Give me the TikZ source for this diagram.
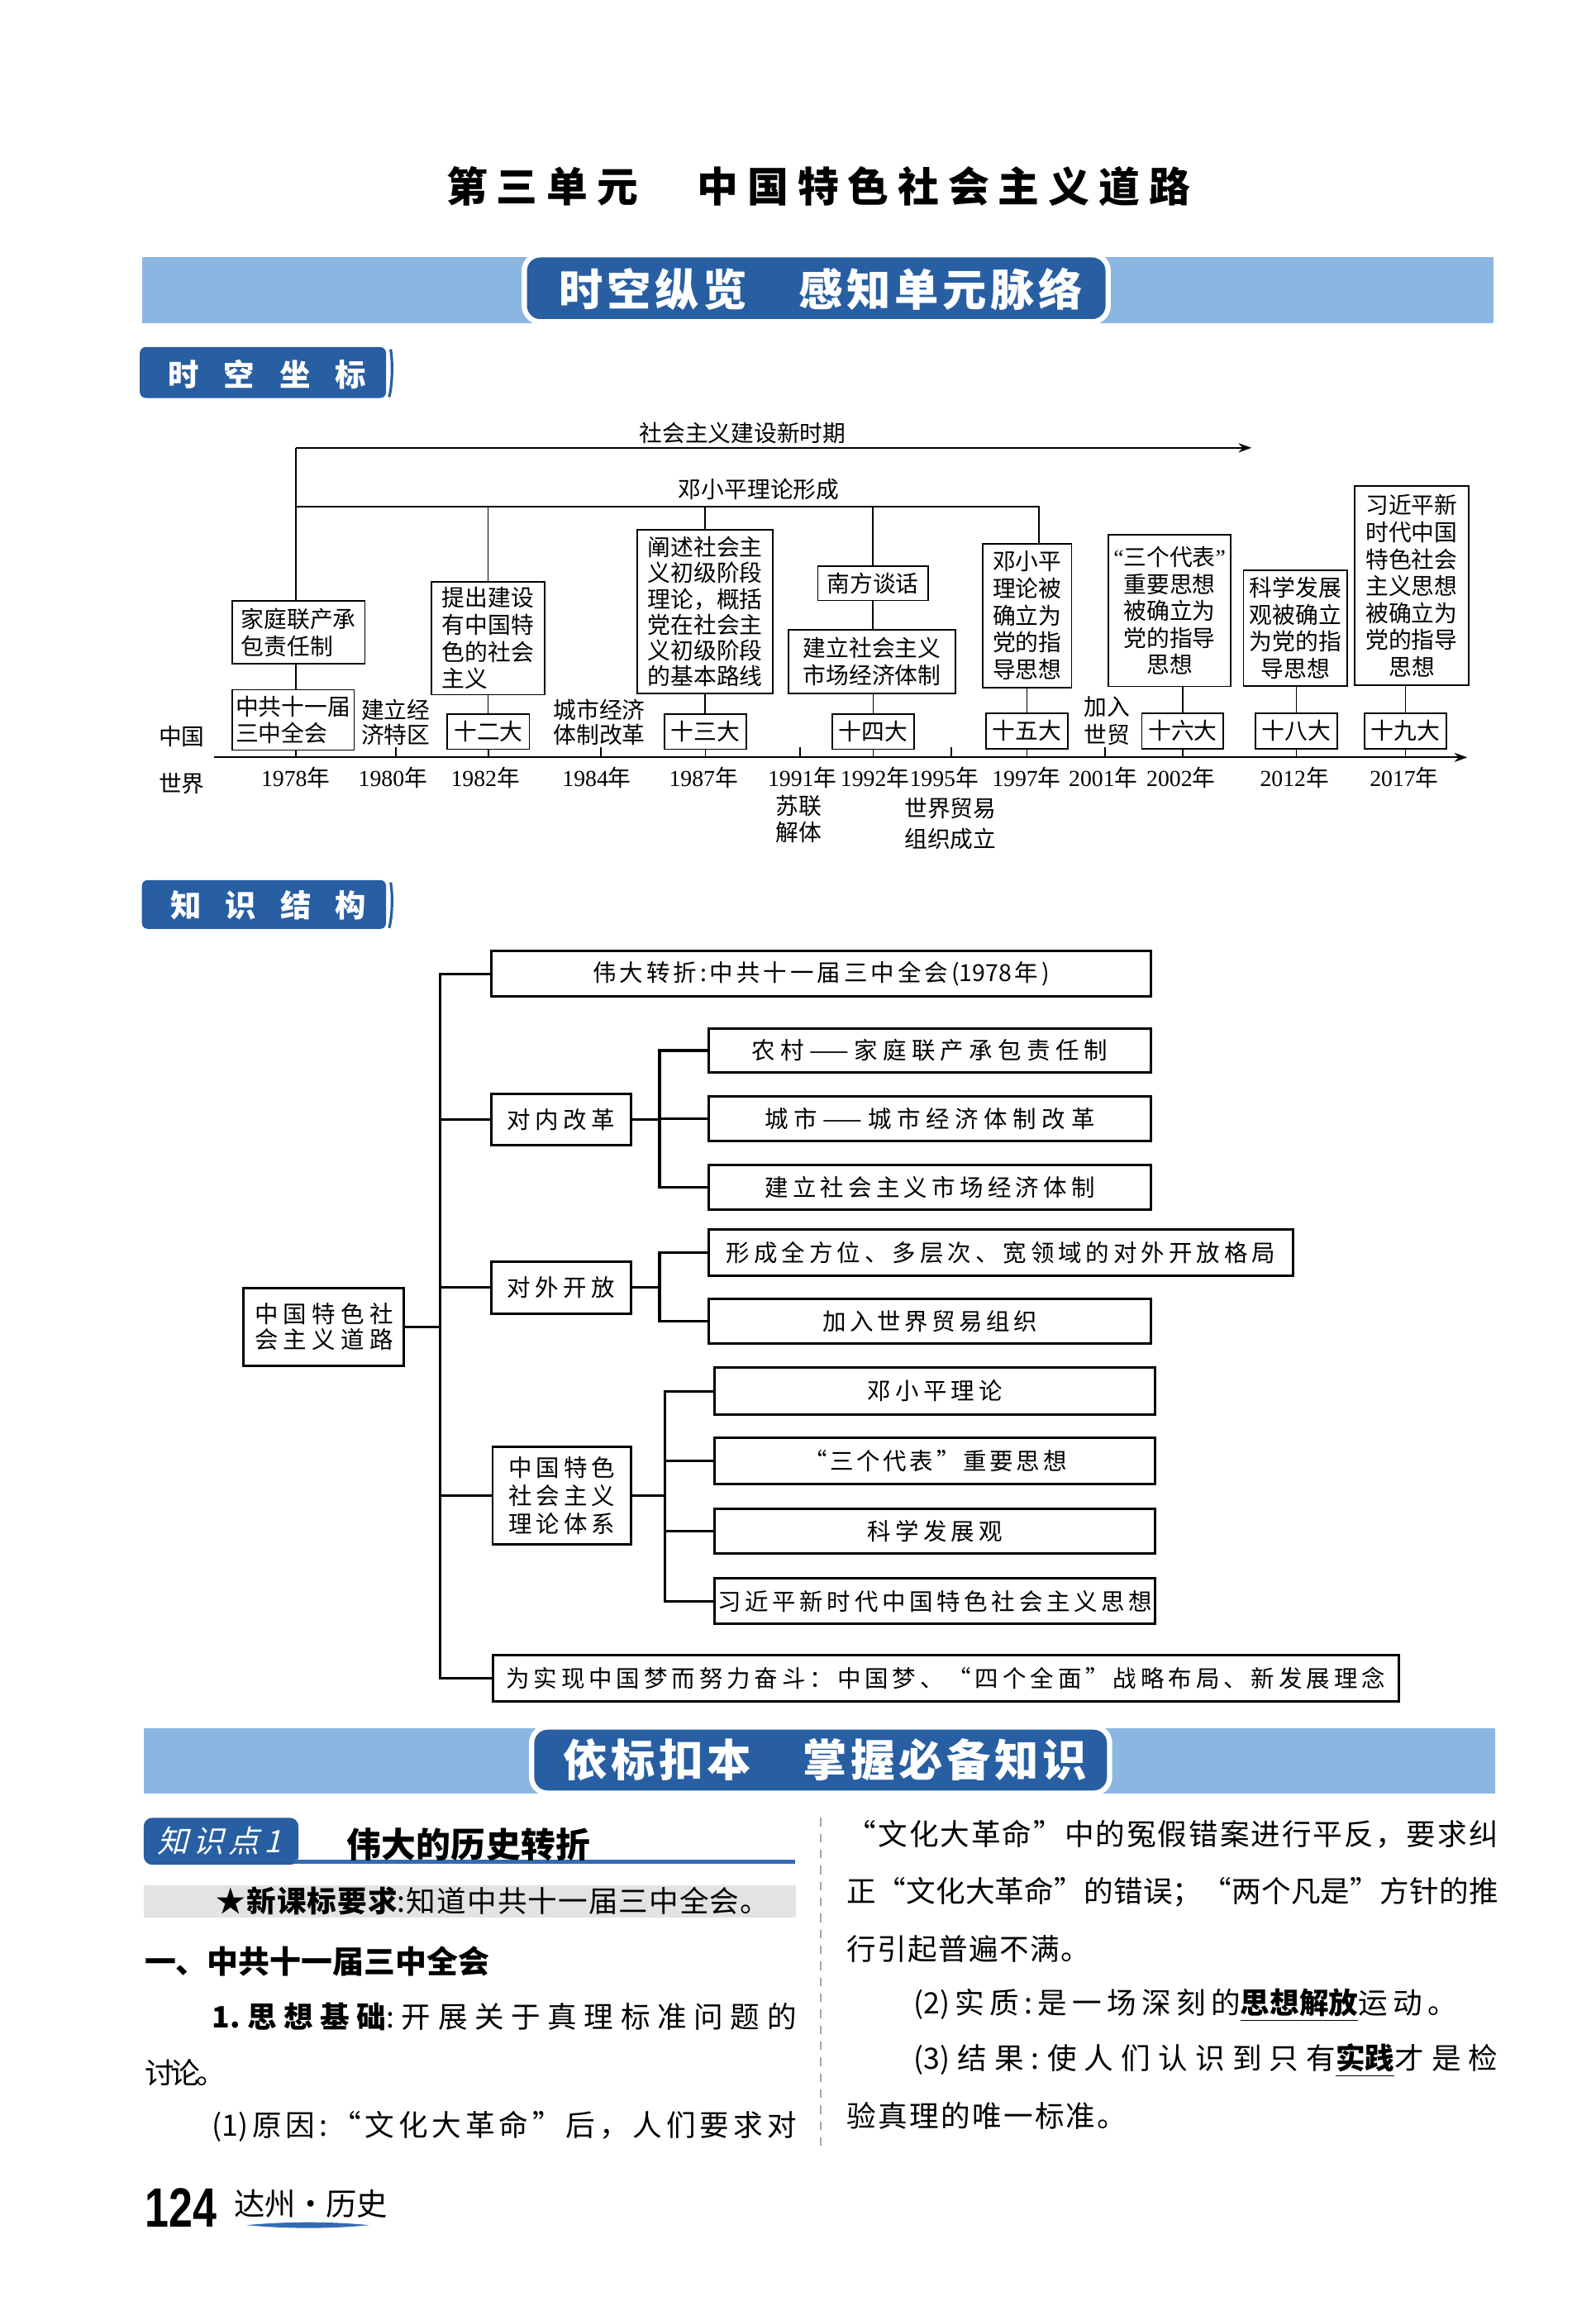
\documentclass[tikz,border=0pt]{standalone}
\usepackage{fontspec}
\usepackage{graphicx}
\setmainfont{Liberation Serif}
\setsansfont{Liberation Sans}
\newfontfamily\cjk{Noto Sans CJK SC}
\newfontfamily\cjksl{Noto Sans CJK SC}[FakeSlant=0.25]
\usetikzlibrary{arrows.meta}
\newdimen\Ud \Ud=0.17797mm
\newcommand\fsz[2]{\fontsize{#1\Ud}{#2\Ud}\selectfont}
% --- character classes for inter-character glue (used only inside \just) ---
\newcount\cc
\cc="4E00
\loop \XeTeXcharclass\cc=1 \advance\cc by 1 \ifnum\cc<"A000 \repeat
\cc="3000
\loop \XeTeXcharclass\cc=1 \advance\cc by 1 \ifnum\cc<"3100 \repeat
\cc="FF00
\loop \XeTeXcharclass\cc=1 \advance\cc by 1 \ifnum\cc<"FFF0 \repeat
\XeTeXcharclass"2018=1 \XeTeXcharclass"2019=1
\XeTeXcharclass"201C=1 \XeTeXcharclass"201D=1 \XeTeXcharclass"2605=1
\XeTeXcharclass"2026=1
\def\jglue{\hskip 0pt plus 1fil minus 0.25em\relax}
\XeTeXinterchartoks 0 1 = {\jglue}
\XeTeXinterchartoks 1 0 = {\jglue}
\XeTeXinterchartoks 1 1 = {\jglue}
\newcommand\just[2]{{\XeTeXinterchartokenstate=1 \makebox[#1\Ud][s]{#2}}}
\newcommand\ans[1]{\underline{\bfseries #1}}
\definecolor{dkblue}{RGB}{40,94,162}
\definecolor{ltblue}{RGB}{140,182,226}
\definecolor{mdblue}{RGB}{52,108,180}
\begin{document}
\begin{tikzpicture}[x=0.17797mm,y=-0.17797mm,
  tl/.style={draw, line width=0.5pt, inner sep=0pt, font=\cjk\fsz{15.6}{18.3}},
  kb/.style={draw, line width=0.85pt, inner sep=0pt, font=\cjk\fsz{16}{19.5}},
  bw/.style={minimum width=#1*\Ud},
  bh/.style={minimum height=#1*\Ud},
  lbl/.style={inner sep=0pt, font=\cjk\fsz{15.6}{18}, align=center},
  tline/.style={line width=0.5pt},
  kl/.style={line width=0.9pt},
  bodytxt/.style={inner sep=0pt, anchor=west, font=\cjk\fsz{20}{24}},
  tip/.style={-{Stealth[length=4.5pt,width=3.2pt]}},
  bandbox/.style={fill=dkblue, draw=white, line width=1.8pt, rounded corners=5.5pt, inner sep=0pt},
  bandtxt/.style={inner sep=0pt, text=white, font=\cjk\bfseries\fsz{30}{32}},
  hdtxt/.style={inner sep=0pt, text=white, font=\cjk\bfseries\fsz{21}{24}}
]
\useasboundingbox (0,0) rectangle (1085,1568);
\fill[white] (0,0) rectangle (1085,1568);
% ---------- title ----------
\node[inner sep=0pt, font=\cjk\bfseries\fsz{28}{30}] (title) at (556.4,127) {\just{505.6}{第三单元　中国特色社会主义道路}};
% ---------- band 1 ----------
\fill[ltblue] (96.5,175) rectangle (1015.5,219.5);
\node[bandbox, bw=397, bh=45.6] (band1) at (555,196) {};
\node[bandtxt] (band1t) at (558,196.5) {\just{356}{时空纵览　感知单元脉络}};
% ---------- header 时空坐标 ----------
\fill[dkblue, rounded corners=2pt] (95.1,236) rectangle (262.5,270.6);
\draw[dkblue, line width=0.9pt] (265.6,237.5) .. controls (267.2,246) and (266.8,262) .. (264.6,270);
\node[hdtxt] (hd1) at (181.7,254.4) {\just{134.9}{时空坐标}};
% ---------- timeline ----------
\coordinate (A0) at (201,304.5);
\coordinate (A1) at (851,304.5);
\coordinate (D1) at (706.6,344.5);
\coordinate (AX0) at (145.6,515);
\coordinate (AX1) at (997.7,515);
\draw[tline,tip] (A0) -- (A1);
\node[lbl] (lab1) at (505,294.5) {社会主义建设新时期};
\node[lbl] (lab2) at (516,332.9) {邓小平理论形成};
\draw[tline,tip] (AX0) -- (AX1);
\node[tl,bw=90.3,bh=42.5,align=left] (jt) at (203,430) {家庭联产承\\包责任制};
\node[tl,bw=83,bh=41,align=left] (zg) at (199.3,489.5) {中共十一届\\三中全会};
\node[tl,bw=77,bh=76.7,align=left] (tj) at (331.8,434) {提出建设\\有中国特\\色的社会\\主义};
\node[tl,bw=55.8,bh=24] (d12) at (332.1,497.5) {十二大};
\node[tl,bw=92,bh=111,align=left,font=\cjk\fsz{15.6}{17.5}] (cs) at (479.5,415.9) {阐述社会主\\义初级阶段\\理论，概括\\党在社会主\\义初级阶段\\的基本路线};
\node[tl,bw=55.5,bh=24] (d13) at (479.7,497.5) {十三大};
\node[tl,bw=75,bh=23.1] (nf) at (593.6,396.7) {南方谈话};
\node[tl,bw=113.4,bh=43.1,align=center] (jl) at (593,449.9) {建立社会主义\\市场经济体制};
\node[tl,bw=55.5,bh=24] (d14) at (593.8,497.5) {十四大};
\node[tl,bw=60.6,bh=97.8,align=center] (dx) at (698.4,418.5) {邓小平\\理论被\\确立为\\党的指\\导思想};
\node[tl,bw=56,bh=24] (d15) at (698.3,497) {十五大};
\node[tl,bw=83.4,bh=103.2,align=center] (sg) at (795.3,415.2) {{\rmfamily“}三个代表{\rmfamily”}\\重要思想\\被确立为\\党的指导\\思想};
\node[tl,bw=55.5,bh=24] (d16) at (804.2,497) {十六大};
\node[tl,bw=70.5,bh=78.7,align=center] (kx) at (880.8,427.1) {科学发展\\观被确立\\为党的指\\导思想};
\node[tl,bw=55.5,bh=24] (d18) at (881.5,497) {十八大};
\node[tl,bw=77.6,bh=135.5,align=center] (xj) at (959.9,398.3) {习近平新\\时代中国\\特色社会\\主义思想\\被确立为\\党的指导\\思想};
\node[tl,bw=55.5,bh=24] (d19) at (955.7,497) {十九大};
% connectors
\draw[tline] (A0) -- (jt.north -| A0);
\draw[tline] (A0 |- D1) -- (D1) -- (dx.north -| D1);
\draw[tline] (tj.north) -- (tj.north |- D1);
\draw[tline] (cs.north) -- (cs.north |- D1);
\draw[tline] (nf.north) -- (nf.north |- D1);
\draw[tline] (jt.south -| A0) -- (zg.north -| A0);
\draw[tline] (zg.south -| A0) -- (AX0 -| A0);
\draw[tline] (tj.south) -- (tj.south |- d12.north);
\draw[tline] (d12.south) -- (d12.south |- AX0);
\draw[tline] (cs.south) -- (cs.south |- d13.north);
\draw[tline] (d13.south) -- (d13.south |- AX0);
\draw[tline] (nf.south) -- (nf.south |- jl.north);
\draw[tline] (jl.south -| d14) -- (d14.north);
\draw[tline] (d14.south) -- (d14.south |- AX0);
\draw[tline] (dx.south -| d15) -- (d15.north);
\draw[tline] (d15.south) -- (d15.south |- AX0);
\draw[tline] (sg.south -| d16) -- (d16.north);
\draw[tline] (d16.south) -- (d16.south |- AX0);
\draw[tline] (kx.south -| d18) -- (d18.north);
\draw[tline] (d18.south) -- (d18.south |- AX0);
\draw[tline] (xj.south -| d19) -- (d19.north);
\draw[tline] (d19.south) -- (d19.south |- AX0);
\foreach \tx in {269.1,408.4,544,647,751.5} \draw[tline] (\tx,515) -- (\tx,508);
\node[lbl] (zgl) at (123.6,500.5) {中国};
\node[lbl] (sjl) at (123.6,532.6) {世界};
\node[lbl,font=\cjk\fsz{15.6}{17}] (e1980) at (269,491) {建立经\\济特区};
\node[lbl,font=\cjk\fsz{15.6}{17}] (e1984) at (407.5,491) {城市经济\\体制改革};
\node[lbl,font=\cjk\fsz{15.6}{19}] (e2001) at (752.6,490) {加入\\世贸};
\node[lbl,font=\cjk\fsz{15.6}{18}] (e1991) at (543,556.7) {苏联\\解体};
\node[lbl,font=\cjk\fsz{15.6}{21}] (e1995) at (646.3,560.2) {世界贸易\\组织成立};
\foreach \yx/\yy [count=\i] in {201/1978,267.1/1980,330/1982,405.8/1984,478.4/1987,545.5/1991,594.9/1992,641.9/1995,698/1997,750.2/2001,803/2002,880.2/2012,954.8/2017}
  \node[lbl] (yr\i) at (\yx,529) {{\rmfamily\yy}年};
% ---------- header 知识结构 ----------
\fill[dkblue, rounded corners=2pt] (96.5,598.4) rectangle (262.5,631.6);
\draw[dkblue, line width=0.9pt] (265.6,600) .. controls (267.2,608) and (266.8,623) .. (264.6,631);
\node[hdtxt] (hd2) at (182.6,615.3) {\just{133}{知识结构}};
% ---------- knowledge structure ----------
\node[kb,bw=109.1,bh=52.8,align=center,font=\cjk\fsz{16}{17.5}] (root) at (220.2,902.2) {\just{94.1}{中国特色社}\\\just{94.1}{会主义道路}};
\node[kb,bw=448.8,bh=31] (wd) at (558.4,662.1) {\just{310.6}{伟大转折:中共十一届三中全会(1978年)}};
\node[kb,bw=95.1,bh=34.7] (dn) at (381.5,761.3) {\just{73.7}{对内改革}};
\node[kb,bw=301,bh=30.3] (nc) at (632.3,714.3) {\just{241.9}{农村——家庭联产承包责任制}};
\node[kb,bw=301,bh=30.5] (cs2) at (632.3,760.7) {\just{224.2}{城市——城市经济体制改革}};
\node[kb,bw=301,bh=30.7] (jl2) at (632.3,807.4) {\just{224.2}{建立社会主义市场经济体制}};
\node[kb,bw=95.1,bh=35.1] (dw) at (381.5,875.5) {\just{73.7}{对外开放}};
\node[kb,bw=397.7,bh=31.2] (xc) at (680.6,851.8) {\just{373.6}{形成全方位、多层次、宽领域的对外开放格局}};
\node[kb,bw=301,bh=30.5] (jr) at (632.3,898.3) {\just{146.2}{加入世界贸易组织}};
\node[kb,bw=94.1,bh=65.9,align=center,font=\cjk\fsz{16}{19.2}] (ll) at (382,1016.9) {\just{72}{中国特色}\\\just{72}{社会主义}\\\just{72}{理论体系}};
\node[kb,bw=299.5,bh=31.9] (t1) at (635.8,945.9) {\just{91.4}{邓小平理论}};
\node[kb,bw=299.5,bh=31.5] (t2) at (635.8,993.4) {\just{179}{“三个代表”重要思想}};
\node[kb,bw=299.5,bh=30.4] (t3) at (635.8,1041.2) {\just{91.4}{科学发展观}};
\node[kb,bw=299.5,bh=30.9] (t4) at (635.8,1088.7) {\just{295.6}{习近平新时代中国特色社会主义思想}};
\node[kb,bw=616,bh=31.8] (ws) at (643,1141.2) {\just{597.7}{为实现中国梦而努力奋斗：中国梦、“四个全面”战略布局、新发展理念}};
\coordinate (T) at (299.3,0);
\coordinate (B1) at (448.5,0);
\coordinate (B3) at (452.2,0);
\draw[kl] (root.east) -- (root.east -| T);
\draw[kl] (wd.west) -- (wd.west -| T) -- (ws.west -| T) -- (ws.west);
\draw[kl] (dn.west) -- (dn.west -| T);
\draw[kl] (dw.west) -- (dw.west -| T);
\draw[kl] (ll.west) -- (ll.west -| T);
\draw[kl] (dn.east) -- (dn.east -| B1);
\draw[kl] (nc.west) -- (nc.west -| B1) -- (jl2.west -| B1) -- (jl2.west);
\draw[kl] (cs2.west) -- (cs2.west -| B1);
\draw[kl] (dw.east) -- (dw.east -| B1);
\draw[kl] (xc.west) -- (xc.west -| B1) -- (jr.west -| B1) -- (jr.west);
\draw[kl] (ll.east) -- (ll.east -| B3);
\draw[kl] (t1.west) -- (t1.west -| B3) -- (t4.west -| B3) -- (t4.west);
\draw[kl] (t2.west) -- (t2.west -| B3);
\draw[kl] (t3.west) -- (t3.west -| B3);
% ---------- band 2 ----------
\fill[ltblue] (97.7,1175.3) rectangle (1016.4,1219.3);
\node[bandbox, bw=393, bh=45] (band2) at (558,1196.8) {};
\node[bandtxt] (band2t) at (561,1196.8) {\just{356.4}{依标扣本　掌握必备知识}};
% ---------- knowledge point 1 ----------
\fill[dkblue, rounded corners=3pt] (97.7,1236) rectangle (203,1268);
\fill[mdblue] (200,1264.6) rectangle (540.5,1267.4);
\node[inner sep=0pt, text=white, font=\cjksl\fsz{21}{24}] (kp) at (149,1252) {\just{84}{知识点1}};
\node[inner sep=0pt, anchor=west, font=\cjk\bfseries\fsz{23.5}{26}] (kpt) at (235.4,1254) {\just{165.6}{伟大的历史转折}};
\fill[gray!22] (98,1282) rectangle (541,1303.6);
\node[bodytxt] (req) at (146.7,1292.3) {\just{376.3}{\textbf{★新课标要求}:知道中共十一届三中全会。}};
\node[bodytxt, font=\cjk\bfseries\fsz{21.3}{25}] (s1) at (98,1333.5) {\just{234.5}{一、中共十一届三中全会}};
\node[bodytxt] (l1) at (143.7,1371) {\just{397.5}{\textbf{1.思想基础}:开展关于真理标准问题的}};
\node[bodytxt] (l2) at (98,1409.4) {\just{54.8}{讨论。}};
\node[bodytxt] (l3) at (143.7,1445.9) {\just{397.5}{(1)原因:“文化大革命”后，人们要求对}};
\draw[gray!70, line width=0.4pt, dash pattern=on 3pt off 2.5pt] (558,1236) -- (558,1462);
\node[bodytxt] (r1) at (575.6,1247.4) {\just{442.7}{“文化大革命”中的冤假错案进行平反，要求纠}};
\node[bodytxt] (r2) at (575.6,1286.7) {\just{442.7}{正“文化大革命”的错误；“两个凡是”方针的推}};
\node[bodytxt] (r3) at (575.6,1325.1) {\just{165.2}{行引起普遍不满。}};
\node[bodytxt] (r4) at (620.8,1363.5) {\just{369.5}{(2)实质:是一场深刻的\ans{思想解放}运动。}};
\node[bodytxt] (r5) at (620.8,1401) {\just{397.5}{(3)结果:使人们认识到只有\ans{实践}才是检}};
\node[bodytxt] (r6) at (575.6,1438.4) {\just{190.2}{验真理的唯一标准。}};
% ---------- footer ----------
\node[inner sep=0pt, anchor=west] (pg) at (98.3,1501.4) {\scalebox{0.775}[1]{\sffamily\bfseries\fsz{37.7}{40}124}};
\node[inner sep=0pt, anchor=west, font=\cjk\fsz{21}{24}] (ft) at (159.2,1498.7) {\just{104}{达州・历史}};
\fill[mdblue] (167.6,1513) .. controls (195,1510.4) and (225,1510.4) .. (251,1513) .. controls (225,1515.6) and (195,1515.6) .. (167.6,1513) -- cycle;
\end{tikzpicture}
\end{document}
